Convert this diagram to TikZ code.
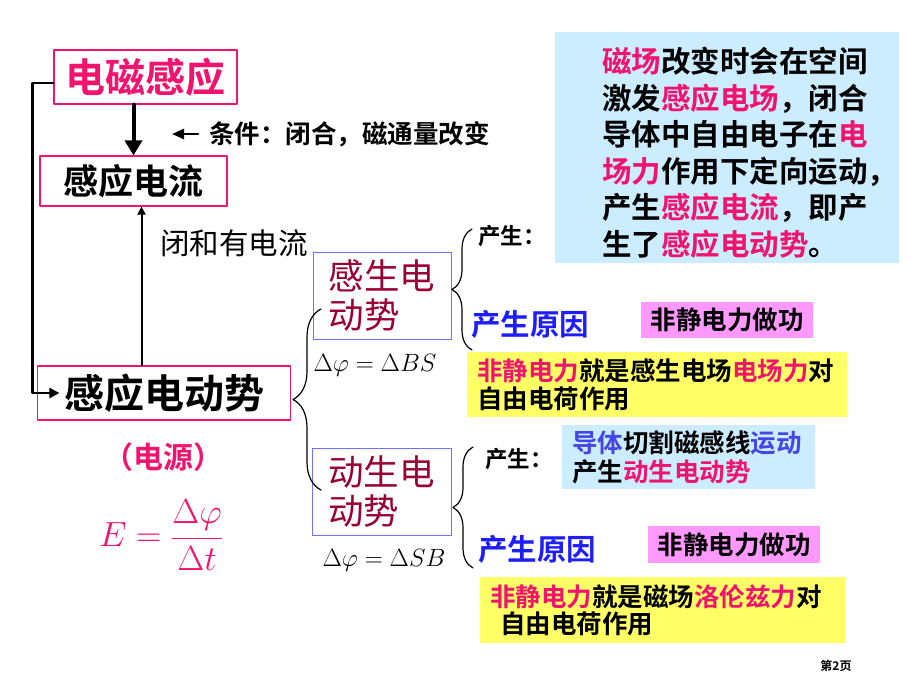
\RequirePackage{fix-cm}
\documentclass[tikz,border=0pt]{standalone}
\usepackage[no-math]{fontspec}
\setmainfont{Noto Sans CJK SC}[BoldFont={Noto Sans CJK SC Bold}]
\usetikzlibrary{arrows.meta,decorations.pathreplacing}
\definecolor{mpink}{RGB}{240,20,110}
\definecolor{dred}{RGB}{153,0,51}
\definecolor{tblue}{RGB}{30,30,250}
\definecolor{lblue}{RGB}{70,70,230}
\definecolor{bframe}{RGB}{110,110,255}
\definecolor{cfill}{RGB}{204,236,255}
\definecolor{yfill}{RGB}{255,255,102}
\definecolor{pfill}{RGB}{255,153,255}
\begin{document}
\begin{tikzpicture}[x=1pt, y=-1pt, line join=round, line cap=round,
    every node/.style={inner sep=0pt},
    fz/.style 2 args={font=\fontsize{#1}{#2}\selectfont\bfseries},
    pinkframe/.style={draw=mpink, line width=1.2pt},
    blueframe/.style={draw=bframe, line width=0.9pt},
    curly/.style={decorate, decoration={brace, amplitude=#1}, line width=1.2pt}]
\useasboundingbox (0,0) rectangle (920,690);
% left column
\node[pinkframe, minimum width=183, minimum height=54, text=mpink, fz={40}{48}] (mag) at (145.5,77) {电磁感应};
\node[pinkframe, minimum width=187, minimum height=50, fz={35}{40}] (cur) at (133.5,181) {感应电流};
\node[pinkframe, minimum width=253, minimum height=54, fz={40}{48}] (emf) at (164,393) {感应电动势};
\node[anchor=west, fz={25.5}{30}] (cond) at (209,134) {条件：闭合，磁通量改变};
\node[anchor=west, font=\fontsize{29.5}{34}\selectfont] (closed) at (160,243) {闭和有电流};
\node[text=mpink, fz={30}{34}] (src) at (163,457) {（电源）};
\node[text=mpink, font=\fontsize{35}{40}\selectfont] (emfeq) at (161,535) {$E=\displaystyle\frac{\Delta\varphi}{\Delta t}$};
\draw[line width=4pt, -{Triangle[length=15pt, width=17pt]}] (cur.north |- mag.south) -- (cur.north);
\draw[line width=2.7pt, -{Triangle[length=12pt, width=10pt]}] ([xshift=-11pt]cond.west) -- ++(-26,0);
\draw[line width=2.8pt, -{Triangle[length=10pt, width=10pt]}] ([yshift=-6pt]mag.west) -- ++(-21,0) |- ([xshift=22.5pt]emf.west);
\draw[line width=2pt, -{Triangle[length=8pt, width=8pt]}] ([xshift=8pt]cur.south |- emf.north) -- ([xshift=8pt]cur.south);
% the two kinds of emf
\node[blueframe, minimum width=138, minimum height=87, align=left, text=dred, font=\fontsize{35.5}{39}\selectfont] (ind) at (382,295.5) {感生电\\动势\hspace*{1em}};
\node[blueframe, minimum width=139, minimum height=87, align=left, text=dred, font=\fontsize{35.5}{39}\selectfont] (mot) at (381.5,491.5) {动生电\\动势\hspace*{1em}};
\node[font=\fontsize{25}{30}\selectfont] (fluxB) at (375,365) {$\Delta\varphi=\Delta BS$};
\node[font=\fontsize{25}{30}\selectfont] (fluxS) at (384,560) {$\Delta\varphi=\Delta SB$};
\coordinate (b1s) at (321,490);
\coordinate (b1e) at (321,309);
\coordinate (b2s) at (472,350);
\coordinate (b2e) at (472,229);
\coordinate (b3s) at (473,568);
\coordinate (b3e) at (473,447);
\draw[curly=28pt] (b1s) -- (b1e);
\draw[curly=20pt] (b2s) -- (b2e);
\draw[curly=20pt] (b3s) -- (b3e);
% upper branch
\node[fill=cfill, anchor=north west, minimum width=344, minimum height=231] (fieldbg) at (555,32) {};
\node[anchor=west, align=left, fz={29.5}{36.5}] (field) at ([xshift=47pt, yshift=-5pt]fieldbg.west)
  {\textcolor{mpink}{磁场}改变时会在空间\\
   激发\textcolor{mpink}{感应电场}，闭合\\
   导体中自由电子在\textcolor{mpink}{电}\\
   \textcolor{mpink}{场力}作用下定向运动，\\
   产生\textcolor{mpink}{感应电流}，即产\\
   生了\textcolor{mpink}{感应电动势}。};
\node[anchor=west, fz={22.5}{26}] (gen1) at (478,236) {产生：};
\node[anchor=west, text=tblue, fz={29.5}{34}] (why1) at (471,324) {产生原因};
\node[fill=pfill, minimum width=172, minimum height=36, fz={25.5}{30}] (work1) at (727,320) {非静电力做功};
\node[fill=yfill, anchor=north west, text width=360, inner xsep=10pt, minimum height=65, align=left, fz={25.5}{28}] (force1) at (467,352)
  {\textcolor{mpink}{非静电力}就是感生电场\textcolor{mpink}{电场力}对\\自由电荷作用};
% lower branch
\node[fill=cfill, anchor=north west, text width=233, inner xsep=10pt, minimum height=64, align=left, fz={25.5}{29}] (cut) at (562,425)
  {\textcolor{lblue}{导体}切割磁感线\textcolor{lblue}{运动}\\产生\textcolor{mpink}{动生电动势}};
\node[anchor=west, fz={22.5}{26}] (gen2) at (485,459) {产生：};
\node[anchor=west, text=tblue, fz={29.5}{34}] (why2) at (478,549) {产生原因};
\node[fill=pfill, minimum width=172, minimum height=37, fz={25.5}{30}] (work2) at (734,544.5) {非静电力做功};
\node[fill=yfill, anchor=north west, text width=345, inner xsep=10pt, minimum height=66, align=left, fz={25.5}{27}] (force2) at (480,577)
  {\textcolor{mpink}{非静电力}就是磁场\textcolor{mpink}{洛伦兹力}对\\\hspace*{0.4em}自由电荷作用};
\node[fz={12}{14}] (page) at (836,666) {第2页};
\end{tikzpicture}
\end{document}
